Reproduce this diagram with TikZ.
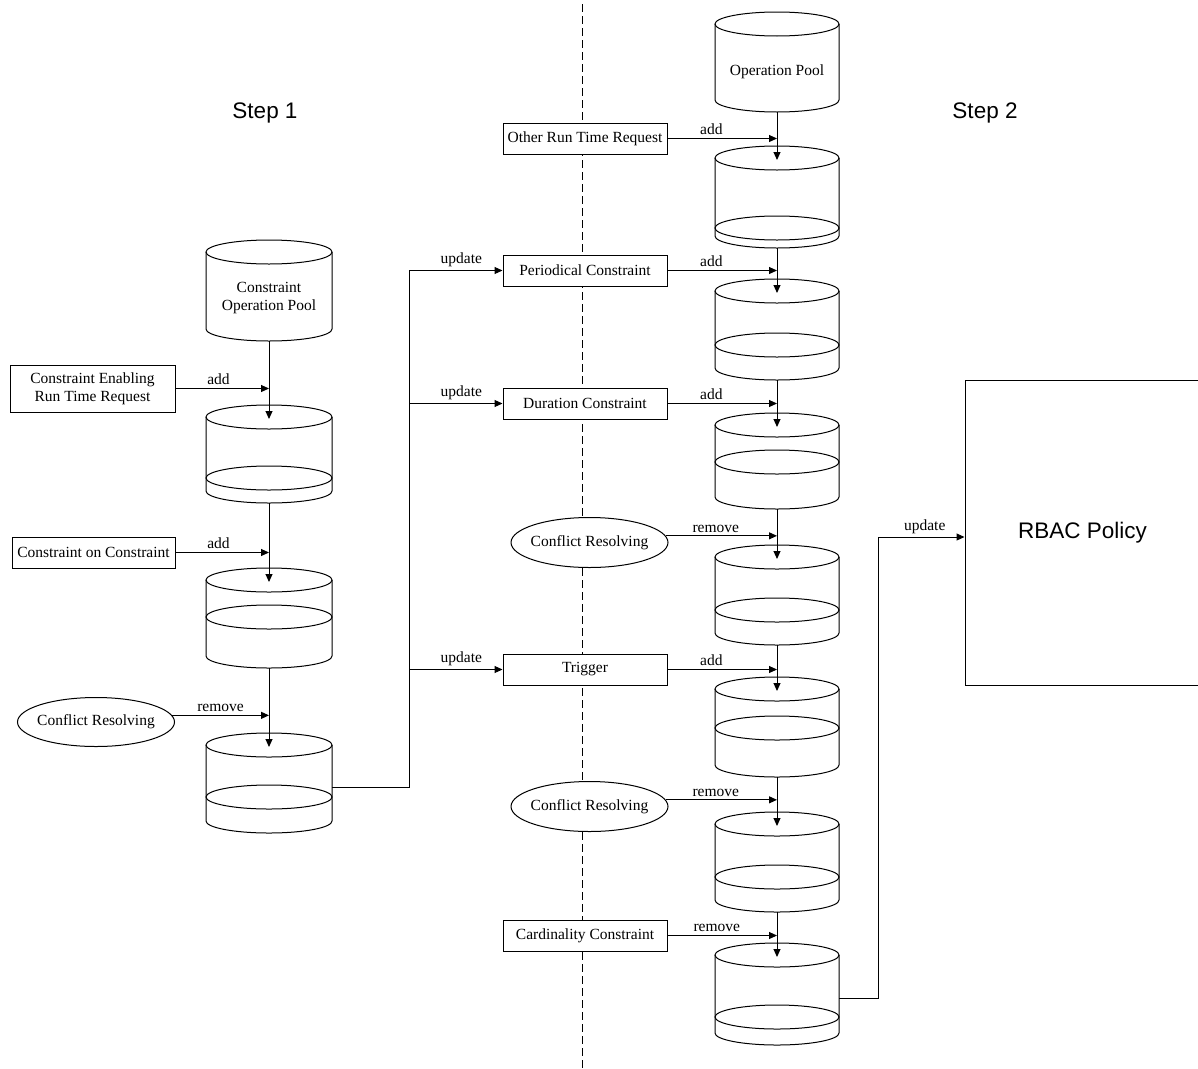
\documentclass[tikz,border=0pt]{standalone}
\usepackage{fontspec}
\setmainfont{Liberation Serif}
\newfontfamily\headfont{Liberation Sans}
\usetikzlibrary{arrows.meta,shapes.geometric}

% vertical radius of the data-store ellipses
\def\cylry{12}
\def\cylnone{none}
% \datastore{name}{center x}{x radius}{top y}{ring y or none}{bottom y}
\newcommand{\datastore}[6]{%
  \fill[white] (#2-#3,#4) -- (#2-#3,#6)
    arc[start angle=180,end angle=360,x radius=#3pt,y radius=\cylry pt]
    -- (#2+#3,#4)
    arc[start angle=0,end angle=180,x radius=#3pt,y radius=\cylry pt] -- cycle;
  \draw[shape line] (#2-#3,#4) -- (#2-#3,#6)
    arc[start angle=180,end angle=360,x radius=#3pt,y radius=\cylry pt]
    -- (#2+#3,#4);
  \draw[shape line] (#2,#4) ellipse[x radius=#3pt,y radius=\cylry pt];
  \def\ringarg{#5}%
  \ifx\ringarg\cylnone\else
    \draw[shape line] (#2,#5) ellipse[x radius=#3pt,y radius=\cylry pt];
  \fi
  \node[inner sep=0pt,outer sep=0pt,minimum width={2*#3},
        minimum height={#6-#4+2*\cylry}] (#1) at (#2,{(#4+#6)/2}) {};
  \coordinate (#1-in) at (#2,#4+2);
}

\tikzset{
  shape line/.style={line width=1pt,black},
  txt/.style={font=\fontsize{15.5}{18}\selectfont,inner sep=0pt,align=center},
  box/.style={draw,line width=1pt,fill=white,inner sep=0pt,
              font=\fontsize{15.5}{18}\selectfont,align=center},
  oval/.style={draw,ellipse,line width=1pt,fill=white,inner sep=0pt,
               minimum width=157,minimum height=50,
               font=\fontsize{15.5}{18}\selectfont},
  arr/.style={line width=1pt,-{Triangle[length=8pt,width=7pt]}},
  link/.style={line width=1pt},
  lab/.style={above=2.5pt,inner sep=0.5pt,font=\fontsize{15.5}{18}\selectfont},
  headline/.style={font=\headfont\fontsize{22.5}{26}\selectfont,inner sep=0pt},
}

\begin{document}
\begin{tikzpicture}[x=1pt,y=-1pt]
\useasboundingbox (0,0) rectangle (1198,1068);

% separator between the two steps
\draw[line width=1pt,dash pattern=on 8pt off 4pt] (582,4) -- (582,1068);

% headings
\node[headline] (s1) at (265,113) {Step 1};
\node[headline] (s2) at (985,113) {Step 2};

% ---------- Step 1 ----------
\datastore{A}{269}{63}{252}{none}{329}
\node[txt] (Atext) at (269,298) {Constraint\\Operation Pool};
\datastore{B}{269}{63}{417}{478}{491}
\datastore{C}{269}{63}{580}{617}{656}
\datastore{D}{269}{63}{745}{797}{821}

\node[box,minimum width=165,minimum height=47] (cert) at (92.5,388.5)
  {Constraint Enabling\\Run Time Request};
\node[box,minimum width=163,minimum height=31] (coc) at (93.5,552.5)
  {Constraint on Constraint};
\node[oval,minimum height=49] (cr0) at (96,722) {\makebox[0pt]{Conflict Resolving}};

\draw[arr] (A.south) -- (B-in);
\draw[arr] (B.south) -- (C-in);
\draw[arr] (C.south) -- (D-in);
\draw[arr] (cert.east) -- (cert.east -| A.south) node[lab,pos=.46] {add};
\draw[arr] (coc.east) -- (coc.east -| A.south) node[lab,pos=.46] {add};
\draw[arr] (cr0.5) -- (cr0.5 -| A.south) node[lab,pos=.5] {remove};

% ---------- Step 2 ----------
\datastore{R0}{777}{62}{24}{none}{100}
\node[txt] (R0text) at (777,72) {Operation Pool};
\datastore{R1}{777}{62}{158}{228}{236}
\datastore{R2}{777}{62}{291}{345}{368}
\datastore{R3}{777}{62}{425}{462}{497}
\datastore{R4}{777}{62}{557}{610}{633}
\datastore{R5}{777}{62}{689}{728}{765}
\datastore{R6}{777}{62}{824}{877}{900}
\datastore{R7}{777}{62}{955}{1017}{1033}

\node[box,minimum width=164,minimum height=31] (ort) at (585,138.5) {Other Run Time Request};
\node[box,minimum width=164,minimum height=31] (per) at (585,270.5) {Periodical Constraint};
\node[box,minimum width=164,minimum height=31] (dur) at (585,403.5) {Duration Constraint};
\node[oval] (cr1) at (589.5,542.5) {\makebox[0pt]{Conflict Resolving}};
\node[box,minimum width=164,minimum height=31] (trig) at (585,669.5) {Trigger};
\node[oval] (cr2) at (589.5,806.5) {\makebox[0pt]{Conflict Resolving}};
\node[box,minimum width=164,minimum height=31] (card) at (585,935.5) {Cardinality Constraint};

\draw[arr] (R0.south) -- (R1-in);
\draw[arr] (R1.south) -- (R2-in);
\draw[arr] (R2.south) -- (R3-in);
\draw[arr] (R3.south) -- (R4-in);
\draw[arr] (R4.south) -- (R5-in);
\draw[arr] (R5.south) -- (R6-in);
\draw[arr] (R6.south) -- (R7-in);

\draw[arr] (ort.east) -- (ort.east -| R0.south) node[lab,pos=.4] {add};
\draw[arr] (per.east) -- (per.east -| R0.south) node[lab,pos=.4] {add};
\draw[arr] (dur.east) -- (dur.east -| R0.south) node[lab,pos=.4] {add};
\draw[arr] (cr1.5) -- (cr1.5 -| R0.south) node[lab,pos=.45] {remove};
\draw[arr] (trig.east) -- (trig.east -| R0.south) node[lab,pos=.4] {add};
\draw[arr] (cr2.5) -- (cr2.5 -| R0.south) node[lab,pos=.45] {remove};
\draw[arr] (card.east) -- (card.east -| R0.south) node[lab,pos=.45] {remove};

% constraints from step 1 feed the step 2 boxes
\coordinate (bus) at (409,0);
\draw[link] ([yshift=-4pt]D.east) -| (bus |- per.west);
\draw[arr] (bus |- per.west) -- (per.west) node[lab,pos=.56] {update};
\draw[arr] (bus |- dur.west) -- (dur.west) node[lab,pos=.56] {update};
\draw[arr] (bus |- trig.west) -- (trig.west) node[lab,pos=.56] {update};

% policy
\node[draw,line width=1pt,fill=white,minimum width=235,minimum height=305,inner sep=0pt,
      font=\headfont\fontsize{22.5}{26}\selectfont] (rbac) at (1082.5,532.5)
      {\raisebox{-3pt}{RBAC Policy}};
\coordinate (rbus) at (878,537);
\draw[link] ([yshift=-4pt]R7.east) -| (rbus);
\draw[arr] (rbus) -- (rbus -| rbac.west) node[lab,pos=.54] {update};
\end{tikzpicture}
\end{document}
